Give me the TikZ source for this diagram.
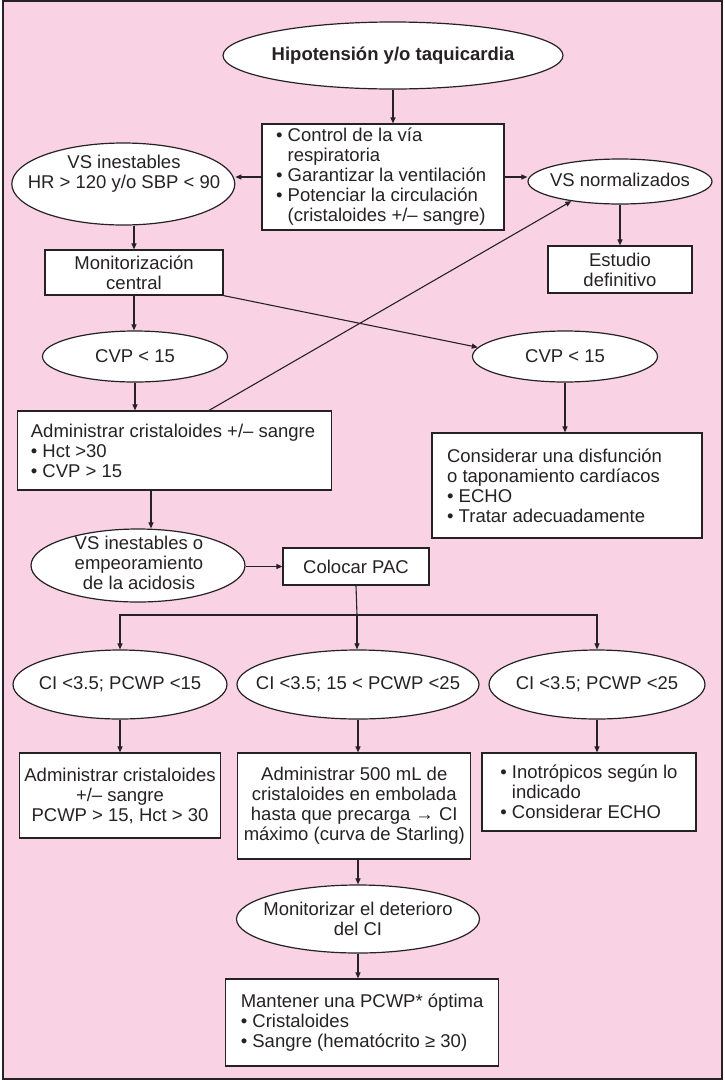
\documentclass[tikz,border=0pt]{standalone}
\usepackage{fontspec}
\setmainfont{Liberation Sans}
\usetikzlibrary{shapes.geometric,arrows.meta}
\definecolor{pinkbg}{RGB}{249,211,228}
\definecolor{ink}{RGB}{38,34,36}
% indent that lines up a wrapped line with the text after a bullet
\newcommand{\hg}{\phantom{•\ }}
\begin{document}
\begin{tikzpicture}[x=1pt,y=-1pt,
  every node/.style={font=\fontsize{18.5}{20}\selectfont, text=ink},
  boxshape/.style={draw=ink, fill=white, line width=1.2pt, rectangle, inner sep=0pt},
  oval/.style={draw=ink, fill=white, line width=1.2pt, ellipse, inner sep=0pt},
  txt/.style={inner sep=0pt, align=center},
  ltxt/.style={inner sep=0pt, align=left, anchor=west},
  wire/.style={draw=ink, line width=1.1pt},
  arr/.style={wire, -{Triangle[length=6pt,width=5pt]}}]
\useasboundingbox (0,0) rectangle (725,1080);
% background panel
\draw[draw=ink, fill=pinkbg, line width=2pt] (3.3,1.2) rectangle (721.7,1079);

% shapes
\node[oval, minimum width=340pt, minimum height=67pt] (top) at (393,55.5) {};
\node[boxshape, minimum width=242pt, minimum height=106pt] (b1) at (383,177) {};
\node[oval, minimum width=223pt, minimum height=82pt] (vsi) at (123.3,184) {};
\node[oval, minimum width=184pt, minimum height=45pt] (vsn) at (620,181.5) {};
\node[boxshape, minimum width=144pt, minimum height=47pt] (est) at (620,269.5) {};
\node[boxshape, minimum width=178pt, minimum height=45pt] (mon) at (134,272.5) {};
\node[oval, minimum width=185pt, minimum height=51pt] (cvpl) at (135,356.5) {};
\node[oval, minimum width=185pt, minimum height=51pt] (cvpr) at (565,356.5) {};
\node[boxshape, minimum width=314pt, minimum height=79pt] (adm) at (174.5,450.5) {};
\node[boxshape, minimum width=270pt, minimum height=105pt] (con) at (567,485.5) {};
\node[oval, minimum width=214pt, minimum height=73pt] (vso) at (138,565.5) {};
\node[boxshape, minimum width=146pt, minimum height=37pt] (pac) at (356,566.5) {};
\node[oval, minimum width=214pt, minimum height=69pt] (ci1) at (120,684.5) {};
\node[oval, minimum width=242pt, minimum height=69pt] (ci2) at (358,684.5) {};
\node[oval, minimum width=216pt, minimum height=69pt] (ci3) at (597,684.5) {};
\node[boxshape, minimum width=201pt, minimum height=85pt] (a1) at (120,795.5) {};
\node[boxshape, minimum width=233pt, minimum height=106pt] (a2) at (354.3,806) {};
\node[boxshape, minimum width=214pt, minimum height=78pt] (a3) at (589,792) {};
\node[oval, minimum width=243pt, minimum height=68pt] (mon2) at (358,919) {};
\node[boxshape, minimum width=273pt, minimum height=87pt] (man) at (362.3,1022.5) {};

% texts
\node[txt, font=\fontsize{18.5}{20}\selectfont\bfseries] (topt) at (top) {Hipotensión y/o taquicardia};
\node[ltxt] (b1t) at ([xshift=14.5pt]b1.west) {• Control de la vía\\ \hg respiratoria\\ • Garantizar la ventilación\\ • Potenciar la circulación\\ \hg(cristaloides +/– sangre)};
\node[txt] (vsit) at (124,174) {VS inestables\\ HR > 120 y/o SBP < 90};
\node[txt] (vsnt) at (620,180) {VS normalizados};
\node[txt] (estt) at (est) {Estudio\\ definitivo};
\node[txt] (mont) at (mon) {Monitorización\\ central};
\node[txt] (cvplt) at (cvpl) {CVP < 15};
\node[txt] (cvprt) at (cvpr) {CVP < 15};
\node[ltxt] (admt) at ([xshift=13.8pt]adm.west) {Administrar cristaloides +/– sangre\\ • Hct >30\\ • CVP > 15};
\node[ltxt] (cont) at ([xshift=15.5pt]con.west) {Considerar una disfunción\\ o taponamiento cardíacos\\ • ECHO\\ • Tratar adecuadamente};
\node[txt] (vsot) at (139,563) {VS inestables o\\ empeoramiento\\ de la acidosis};
\node[txt] (pact) at (pac) {Colocar PAC};
\node[txt] (ci1t) at (ci1) {CI <3.5; PCWP <15};
\node[txt] (ci2t) at (ci2) {CI <3.5; 15 < PCWP <25};
\node[txt] (ci3t) at (ci3) {CI <3.5; PCWP <25};
\node[txt] (a1t) at (a1) {Administrar cristaloides\\ +/– sangre\\ PCWP > 15, Hct > 30};
\node[txt] (a2t) at (a2) {Administrar 500 mL de\\ cristaloides en embolada\\ hasta que precarga → CI\\ máximo (curva de Starling)};
\node[ltxt] (a3t) at ([xshift=18.7pt]a3.west) {• Inotrópicos según lo\\ \hg indicado\\ • Considerar ECHO};
\node[txt] (mon2t) at (mon2) {Monitorizar el deterioro\\ del CI};
\node[ltxt] (mant) at ([xshift=15.4pt]man.west) {Mantener una PCWP* óptima\\ • Cristaloides\\ • Sangre (hematócrito ≥ 30)};

% connectors
\draw[arr] (top.south) -- (top.south |- b1.north);
\draw[arr] (b1.west) -- (b1.west -| vsi.east);
\draw[arr] (b1.east) -- (b1.east -| vsn.west);
\draw[arr] (vsn.south) -- (vsn.south |- est.north);
\draw[arr] (vsi.south -| mon.north) -- (mon.north);
\draw[arr] (mon.south) -- (mon.south |- cvpl.north);
\draw[arr] (mon.south east) -- (cvpr.174);
\draw[arr] ([xshift=34.5pt]adm.north) -- (vsn.202);
\draw[arr] (cvpl.south) -- (cvpl.south |- adm.north);
\draw[arr] (cvpr.south) -- (cvpr.south |- con.north);
\draw[arr] ([xshift=-23.5pt]adm.south) -- ([xshift=-23.5pt]adm.south |- vso.north);
\draw[arr] (pac.west -| vso.east) -- (pac.west);
\coordinate (br) at (357,615);
\draw[wire] (pac.south) -- (br);
\draw[arr] (br) -| (ci1.north);
\draw[arr] (br) -- (br |- ci2.north);
\draw[arr] (br) -| (ci3.north);
\draw[arr] (ci1.south) -- (ci1.south |- a1.north);
\draw[arr] (ci2.south) -- (ci2.south |- a2.north);
\draw[arr] (ci3.south) -- (ci3.south |- a3.north);
\draw[arr] (mon2.north |- a2.south) -- (mon2.north);
\draw[arr] (mon2.south) -- (mon2.south |- man.north);
\end{tikzpicture}
\end{document}
